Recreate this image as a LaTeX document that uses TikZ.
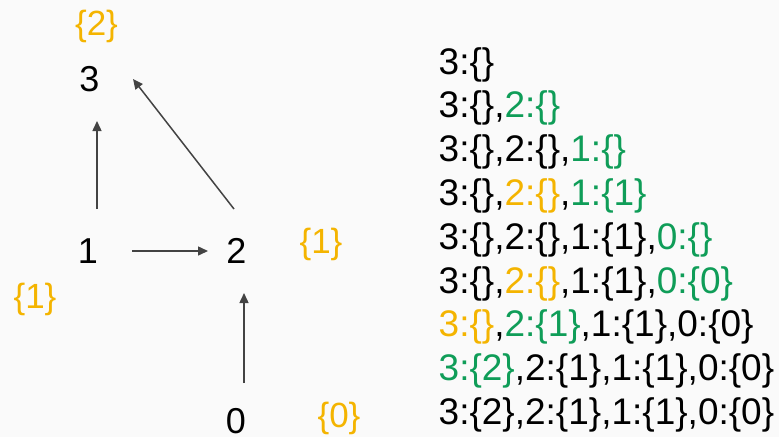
\documentclass[tikz,border=0pt]{standalone}
\usepackage{fontspec}
\setmainfont{Liberation Sans}
\usetikzlibrary{arrows.meta}
\definecolor{bg}{RGB}{250,250,250}
\definecolor{gorange}{RGB}{244,180,0}
\definecolor{ggreen}{RGB}{15,157,88}
\definecolor{arrgray}{RGB}{67,67,67}
\tikzset{
  vnode/.style={inner sep=0pt, anchor=base, font=\fontsize{36}{43}\selectfont},
  lbl/.style={inner sep=0pt, anchor=base, text=gorange, font=\fontsize{35}{42}\selectfont},
  row/.style={inner sep=0pt, anchor=base west, font=\fontsize{37}{44}\selectfont},
  arr/.style={draw=arrgray, line width=1.5pt, -{Triangle[length=10pt,width=9pt]}}
}
\newcommand{\og}[1]{\textcolor{gorange}{#1}}
\newcommand{\gr}[1]{\textcolor{ggreen}{#1}}
\begin{document}
\begin{tikzpicture}[x=1pt,y=-1pt]
\fill[bg] (0,0) rectangle (779,437);
\useasboundingbox (0,0) rectangle (779,437);
% graph nodes
\node[vnode] (n3) at (89.5,91) {3};
\node[vnode] (n1) at (88,263) {1};
\node[vnode] (n2) at (236.5,263) {2};
\node[vnode] (n0) at (236,433) {0};
% labels
\node[lbl] (l3) at (96.5,35) {\{2\}};
\node[lbl] (l1) at (35,308) {\{1\}};
\node[lbl] (l2) at (321,253) {\{1\}};
\node[lbl] (l0) at (339,427) {\{0\}};
% edges
\draw[arr] ([shift={(9,-54)}]n1.base) -- ([shift={(7.5,30)}]n3.base);
\draw[arr] ([shift={(-2.5,-54)}]n2.base) -- ([shift={(43.5,-12)}]n3.base);
\draw[arr] ([shift={(44,-12)}]n1.base) -- ([shift={(-28.5,-12)}]n2.base);
\draw[arr] ([shift={(8,-50)}]n0.base) -- ([shift={(7.5,30)}]n2.base);
% rows
\node[row] (r1) at (438.5,74) {3:\{\}};
\node[row] (r2) at (438.5,117.8) {3:\{\},\gr{2:\{\}}};
\node[row] (r3) at (438.5,161.6) {3:\{\},2:\{\},\gr{1:\{\}}};
\node[row] (r4) at (438.5,205.4) {3:\{\},\og{2:\{\}},\gr{1:\{1\}}};
\node[row] (r5) at (438.5,249.2) {3:\{\},2:\{\},1:\{1\},\gr{0:\{\}}};
\node[row] (r6) at (438.5,293) {3:\{\},\og{2:\{\}},1:\{1\},\gr{0:\{0\}}};
\node[row] (r7) at (438.5,336.8) {\og{3:\{\}},\gr{2:\{1\}},1:\{1\},0:\{0\}};
\node[row] (r8) at (438.5,380.6) {\gr{3:\{2\}},2:\{1\},1:\{1\},0:\{0\}};
\node[row] (r9) at (438.5,424.4) {3:\{2\},2:\{1\},1:\{1\},0:\{0\}};
\end{tikzpicture}
\end{document}
